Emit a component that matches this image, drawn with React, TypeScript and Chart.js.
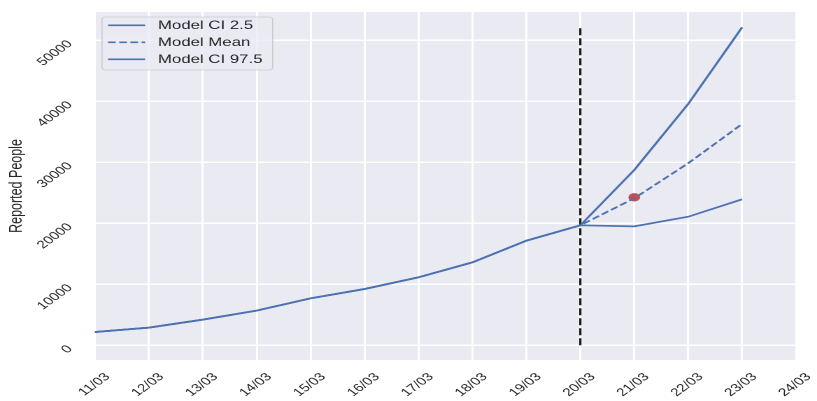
import React, { useEffect, useRef } from "react";
import { Chart, registerables, ChartConfiguration, Plugin } from "chart.js";

Chart.register(...registerables);

const CATEGORIES = [
  "11/03", "12/03", "13/03", "14/03", "15/03", "16/03", "17/03",
  "18/03", "19/03", "20/03", "21/03", "22/03", "23/03", "24/03",
];
const CI_LOW = [2180, 2900, 4210, 5690, 7700, 9230, 11150, 13600, 17150, 19670, 19500, 21080, 23930];
const MEAN = [2180, 2900, 4210, 5690, 7700, 9230, 11150, 13600, 17150, 19670, 24100, 29840, 36280];
const CI_HIGH = [2180, 2900, 4210, 5690, 7700, 9230, 11150, 13600, 17150, 19670, 28740, 39560, 52130];
const OBSERVED = [{ x: "21/03", y: 24260 }];
const CUTOFF = [{ x: "20/03", y: 0 }, { x: "20/03", y: 52200 }];
const Y_TICKS = [0, 10000, 20000, 30000, 40000, 50000];
const LEGEND_LABELS = ["Model CI 2.5", "Model Mean", "Model CI 97.5"];

const BLUE = "#4C72B0";
const RED = "#C44E52";
const TEXT = "#262626";
const FONT = "'Liberation Sans', Arial, sans-serif";

// the reference is horizontally stretched, so the chart is drawn narrower and scaled in x
const WIDTH = 817;
const HEIGHT = 401;
const INNER_W = 584;
const STRETCH = WIDTH / INNER_W;

const plotBackground: Plugin<"line"> = {
  id: "plotBackground",
  beforeDraw(chart) {
    const { ctx, chartArea } = chart;
    ctx.save();
    ctx.fillStyle = "#EAEAF2";
    ctx.fillRect(chartArea.left, chartArea.top, chartArea.right - chartArea.left, chartArea.bottom - chartArea.top);
    ctx.restore();
  },
};

const insideLegend: Plugin<"line"> = {
  id: "insideLegend",
  afterDraw(chart) {
    const { ctx, chartArea } = chart;
    const x0 = chartArea.left + 5;
    const y0 = chartArea.top + 5;
    ctx.save();
    ctx.beginPath();
    ctx.roundRect(x0, y0, 122, 53, 2.5);
    ctx.fillStyle = "rgba(234,234,242,0.8)";
    ctx.fill();
    ctx.strokeStyle = "#cccccc";
    ctx.lineWidth = 0.8;
    ctx.stroke();
    LEGEND_LABELS.forEach((label, i) => {
      const y = y0 + 8.3 + i * 17;
      ctx.beginPath();
      ctx.setLineDash(i === 1 ? [5.5, 2.5] : []);
      ctx.strokeStyle = BLUE;
      ctx.lineWidth = 1.6;
      ctx.moveTo(x0 + 4.3, y);
      ctx.lineTo(x0 + 30.8, y);
      ctx.stroke();
      ctx.setLineDash([]);
      ctx.fillStyle = TEXT;
      ctx.font = `12px ${FONT}`;
      ctx.textBaseline = "middle";
      ctx.fillText(label, x0 + 40, y + 0.5);
    });
    ctx.restore();
  },
};

export default function App() {
  const canvasRef = useRef<HTMLCanvasElement | null>(null);

  useEffect(() => {
    document.body.style.margin = "0";
    if (!canvasRef.current) return;

    const config: ChartConfiguration<"line"> = {
      type: "line",
      data: {
        labels: CATEGORIES,
        datasets: [
          {
            label: "Model CI 2.5",
            data: CI_LOW,
            borderColor: BLUE,
            borderWidth: 1.7,
            pointRadius: 0,
            tension: 0,
          },
          {
            label: "Model Mean",
            data: MEAN,
            borderColor: BLUE,
            borderWidth: 1.7,
            borderDash: [5.5, 2.5],
            pointRadius: 0,
            tension: 0,
          },
          {
            label: "Model CI 97.5",
            data: CI_HIGH,
            borderColor: BLUE,
            borderWidth: 1.7,
            pointRadius: 0,
            tension: 0,
          },
          {
            label: "Cutoff",
            data: CUTOFF as any,
            borderColor: "#1a1a1a",
            borderWidth: 1.6,
            borderDash: [7, 3],
            pointRadius: 0,
          },
          {
            label: "Observed",
            data: OBSERVED as any,
            showLine: false,
            pointRadius: 4.2,
            pointBorderWidth: 0,
            pointBackgroundColor: RED,
            borderColor: RED,
          },
        ],
      },
      options: {
        animation: false,
        responsive: false,
        devicePixelRatio: 2,
        layout: { padding: { top: 12, right: 15, left: 0, bottom: 0 } },
        plugins: {
          legend: { display: false },
          tooltip: { enabled: false },
        },
        scales: {
          x: {
            type: "category",
            offset: false,
            border: { display: false },
            grid: { color: "#ffffff", lineWidth: 1.5, drawTicks: false, offset: false },
            ticks: {
              autoSkip: false,
              minRotation: 45,
              maxRotation: 45,
              labelOffset: 9,
              padding: 10.5,
              color: TEXT,
              font: { family: FONT, size: 11 },
            },
            afterFit: (scale) => {
              scale.height = 41;
              scale.paddingLeft = 0;
              scale.paddingRight = 0;
            },
          },
          y: {
            min: -2410,
            max: 54640,
            border: { display: false },
            grid: { color: "#ffffff", lineWidth: 1.5, drawTicks: false },
            afterBuildTicks: (scale) => {
              scale.ticks = Y_TICKS.map((v) => ({ value: v }));
            },
            ticks: {
              minRotation: 45,
              maxRotation: 45,
              padding: 17.8,
              labelOffset: 2,
              color: TEXT,
              font: { family: FONT, size: 11 },
              callback: (v) => String(v),
            },
            title: {
              display: true,
              text: "Reported People",
              color: TEXT,
              font: { family: FONT, size: 12.5 },
              padding: { top: 4.4, bottom: 0 },
            },
            afterFit: (scale) => {
              scale.width = 95 / STRETCH;
              scale.paddingTop = 0;
              scale.paddingBottom = 0;
            },
          },
        },
      },
      plugins: [plotBackground, insideLegend],
    };

    const chart = new Chart(canvasRef.current, config);
    return () => {
      chart.destroy();
    };
  }, []);

  return (
    <div style={{ width: WIDTH, height: HEIGHT, overflow: "hidden", background: "#ffffff" }}>
      <div
        style={{
          width: INNER_W,
          height: HEIGHT,
          transform: `scaleX(${STRETCH})`,
          transformOrigin: "0 0",
        }}
      >
        <canvas ref={canvasRef} width={INNER_W} height={HEIGHT} />
      </div>
    </div>
  );
}
